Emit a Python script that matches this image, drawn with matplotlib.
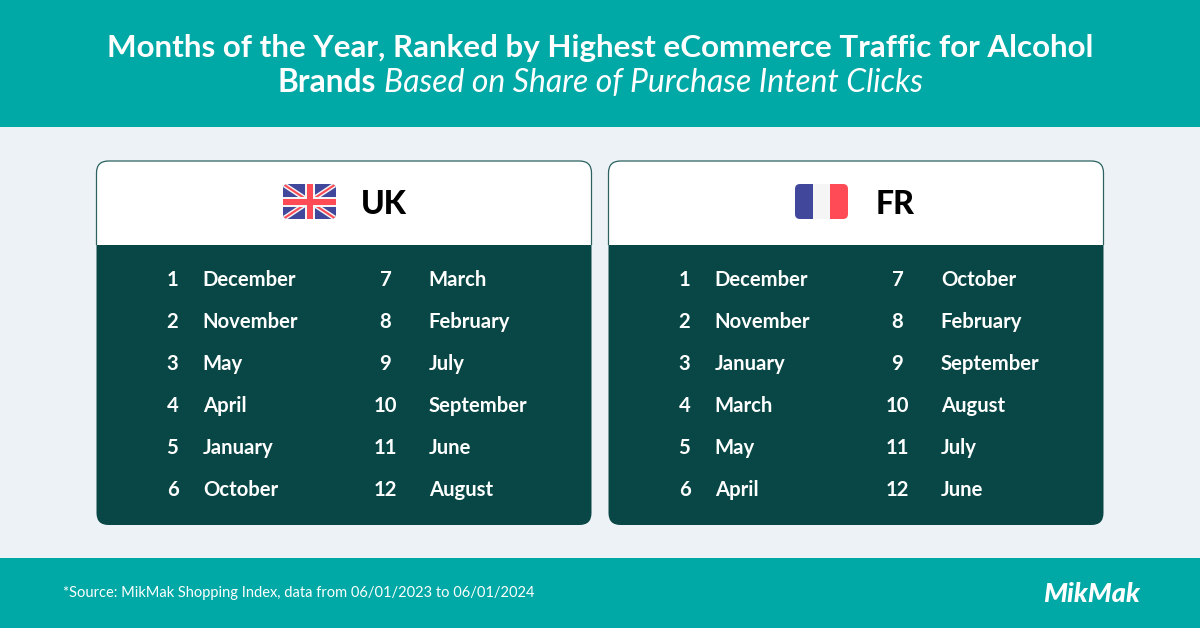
import matplotlib
matplotlib.use('Agg')
import matplotlib.pyplot as plt
import matplotlib.patches as patches

months_uk = ['December', 'November', 'May', 'April', 'January', 'October',
             'March', 'February', 'July', 'September', 'June', 'August']
months_fr = ['December', 'November', 'January', 'March', 'May', 'April',
             'October', 'February', 'September', 'August', 'July', 'June']
ranks = list(range(1, 13))

TEAL = '#00a8a6'
DARK = '#084745'
BG = '#edf2f6'
BLUE = '#41479b'
RED = '#ff4b55'
WHITE_FLAG = '#f5f5f5'

plt.rcParams['font.family'] = ['Lato', 'DejaVu Sans']

fig = plt.figure(figsize=(12, 6.28), dpi=100)
ax = fig.add_axes([0, 0, 1, 1])
ax.set_xlim(0, 1200)
ax.set_ylim(628, 0)
ax.axis('off')

# bands
ax.add_patch(patches.Rectangle((0, 0), 1200, 628, fc=BG, ec='none'))
ax.add_patch(patches.Rectangle((0, 0), 1200, 127, fc=TEAL, ec='none'))
ax.add_patch(patches.Rectangle((0, 558), 1200, 70, fc=TEAL, ec='none'))

# title
ax.text(600.5, 48, 'Months of the Year, Ranked by Highest eCommerce Traffic for Alcohol',
        color='white', fontsize=22.55, fontweight='bold', ha='center', va='center')
ax.text(277.5, 83, 'Brands', color='white', fontsize=22.9, fontweight='bold', ha='left', va='center')
ax.text(384, 83, 'Based on Share of Purchase Intent Clicks', color='white', fontsize=22.95,
        style='italic', ha='left', va='center')


def draw_card(x0, name, months, name_x):
    w = 495
    top, mid, bottom = 161, 245, 525
    box = patches.FancyBboxPatch((x0 + 12, top + 12), w - 24, bottom - top - 24,
                                 boxstyle='round,pad=12,rounding_size=12',
                                 fc=DARK, ec='none', zorder=2)
    ax.add_patch(box)
    head = patches.Rectangle((x0, top), w, mid - top, fc='white', ec='none', zorder=3)
    ax.add_patch(head)
    head.set_clip_path(box)
    # thin outline shows only around the white header
    outline = patches.FancyBboxPatch((x0 + 12, top + 12), w - 24, bottom - top - 24,
                                     boxstyle='round,pad=12,rounding_size=12',
                                     fc='none', ec='#2c6361', lw=0.9, zorder=4)
    ax.add_patch(outline)
    outline.set_clip_path(patches.Rectangle((x0 - 2, top - 2), w + 4, mid - top + 2,
                                            transform=ax.transData))
    ax.text(name_x, 204, name, color='black', fontsize=23, fontweight='black',
            ha='left', va='center', zorder=5)

    for i, (rank, month) in enumerate(zip(ranks, months)):
        col, row = divmod(i, 6)
        y = 280.5 + 42 * row
        rank_x = x0 + 76 + col * 213
        month_x = x0 + 106.3 + col * 226
        ax.text(rank_x, y, str(rank), color='white', fontsize=14.6, fontweight='bold',
                ha='center', va='center', zorder=5)
        ax.text(month_x, y, month, color='white', fontsize=14.6, fontweight='bold',
                ha='left', va='center', zorder=5)


def flag_clip(x, y, w, h):
    clip = patches.FancyBboxPatch((x + 5, y + 5), w - 10, h - 10,
                                  boxstyle='round,pad=5,rounding_size=5',
                                  fc='none', ec='none', zorder=5)
    ax.add_patch(clip)
    return clip


def draw_uk_flag(x, y, w, h):
    clip = flag_clip(x, y, w, h)
    field = patches.Rectangle((x, y), w, h, fc=BLUE, ec='none', zorder=5)
    ax.add_patch(field)
    field.set_clip_path(clip)
    # diagonals, white under red
    for c, lw, z in [(WHITE_FLAG, 3.6, 6), (RED, 1.5, 7)]:
        for ys in [(y, y + h), (y + h, y)]:
            line, = ax.plot([x, x + w], ys, color=c, lw=lw, zorder=z, solid_capstyle='butt')
            line.set_clip_path(clip)
    # upright cross
    for c, t, z in [(WHITE_FLAG, 10, 8), (RED, 6, 9)]:
        for bar in [patches.Rectangle((x + w / 2 - t / 2, y), t, h, fc=c, ec='none', zorder=z),
                    patches.Rectangle((x, y + h / 2 - t / 2), w, t, fc=c, ec='none', zorder=z)]:
            ax.add_patch(bar)
            bar.set_clip_path(clip)


def draw_fr_flag(x, y, w, h):
    clip = flag_clip(x, y, w, h)
    for k, c in enumerate([BLUE, WHITE_FLAG, RED]):
        band = patches.Rectangle((x + k * w / 3, y), w / 3, h, fc=c, ec='none', zorder=6)
        ax.add_patch(band)
        band.set_clip_path(clip)


draw_card(96.5, 'UK', months_uk, 361)
draw_card(608.5, 'FR', months_fr, 876)
draw_uk_flag(283, 184, 53, 35)
draw_fr_flag(795, 184, 53, 35)

# footer
ax.text(63, 592.5, '*Source: MikMak Shopping Index, data from 06/01/2023 to 06/01/2024',
        color='white', fontsize=10.5, ha='left', va='center')
ax.text(1092, 594, 'MikMak', color='white', fontsize=19.5, fontweight='black', style='italic',
        ha='center', va='center')

fig.savefig('out.png', dpi=100)
